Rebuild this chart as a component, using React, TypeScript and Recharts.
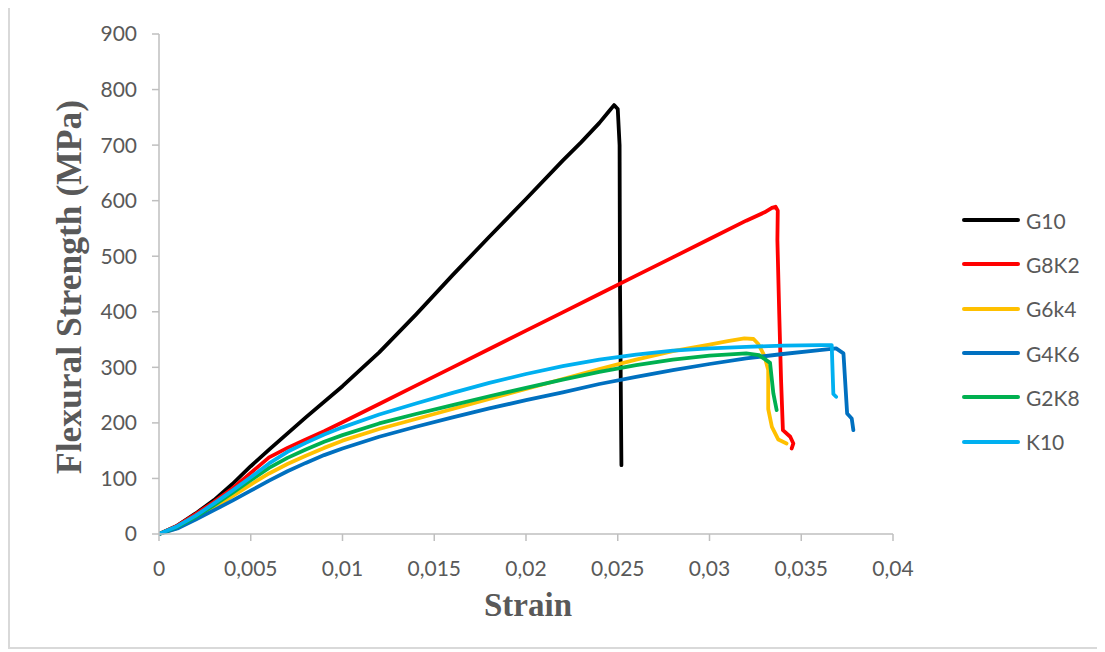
import React from "react";
import { LineChart, Line, XAxis, YAxis } from "recharts";

// ---- data (strain, stress in MPa) ----
const g10Strain = [0, 0.001, 0.002, 0.003, 0.004, 0.005, 0.006, 0.008, 0.01, 0.012, 0.014, 0.016, 0.018, 0.02, 0.022, 0.023, 0.024, 0.0245, 0.0248, 0.025, 0.0251, 0.02512, 0.0252];
const g10Stress = [0, 15, 37, 61, 90, 122, 152, 210, 266, 327, 395, 466, 535, 603, 672, 705, 740, 760, 772, 765, 700, 457, 124];

const g8k2Strain = [0, 0.001, 0.002, 0.003, 0.004, 0.005, 0.006, 0.007, 0.008, 0.009, 0.01, 0.012, 0.014, 0.016, 0.018, 0.02, 0.022, 0.024, 0.026, 0.028, 0.03, 0.032, 0.033, 0.0334, 0.0336, 0.03372, 0.0337, 0.0338, 0.0339, 0.034, 0.0344, 0.03457, 0.03448];
const g8k2Stress = [0, 15, 36, 58, 82, 110, 138, 155, 170, 185, 201, 234, 267, 300, 333, 366, 399, 432, 465, 498, 531, 564, 579, 587, 589, 582, 529, 397, 277, 187, 175, 163, 154];

const g6k4Strain = [0, 0.001, 0.002, 0.003, 0.004, 0.005, 0.006, 0.007, 0.008, 0.009, 0.01, 0.012, 0.014, 0.016, 0.018, 0.02, 0.022, 0.024, 0.026, 0.028, 0.03, 0.031, 0.0319, 0.0324, 0.03266, 0.033, 0.0332, 0.0332, 0.0334, 0.03375, 0.0342];
const g6k4Stress = [0, 11, 28, 47, 68, 89, 109, 126, 141, 155, 168, 189, 207, 225, 243, 261, 279, 297, 314, 329, 341, 347, 352, 351, 342, 320, 295, 225, 193, 170, 163];

const g4k6Strain = [0, 0.001, 0.002, 0.003, 0.004, 0.005, 0.006, 0.007, 0.008, 0.009, 0.01, 0.012, 0.014, 0.016, 0.018, 0.02, 0.022, 0.024, 0.026, 0.028, 0.03, 0.032, 0.034, 0.036, 0.0369, 0.0373, 0.0375, 0.03775, 0.03784];
const g4k6Stress = [0, 10, 26, 43, 60, 78, 96, 113, 128, 142, 154, 175, 193, 210, 226, 241, 255, 270, 283, 295, 306, 316, 324, 331, 334, 325, 217, 208, 187];

const g2k8Strain = [0, 0.001, 0.002, 0.003, 0.004, 0.005, 0.006, 0.007, 0.008, 0.009, 0.01, 0.012, 0.014, 0.016, 0.018, 0.02, 0.022, 0.024, 0.026, 0.028, 0.03, 0.032, 0.0327, 0.0333, 0.03348, 0.03366];
const g2k8Stress = [0, 13, 31, 52, 74, 97, 119, 137, 152, 166, 178, 199, 216, 232, 248, 263, 278, 292, 304, 314, 321, 325, 322, 308, 253, 223];

const k10Strain = [0, 0.001, 0.002, 0.003, 0.004, 0.005, 0.006, 0.007, 0.008, 0.009, 0.01, 0.012, 0.014, 0.016, 0.018, 0.02, 0.022, 0.024, 0.026, 0.028, 0.03, 0.032, 0.034, 0.036, 0.03666, 0.03675, 0.0369];
const k10Stress = [0, 14, 33, 55, 78, 102, 127, 148, 164, 179, 192, 215, 235, 254, 272, 288, 302, 314, 323, 330, 334, 337, 339, 340, 340, 252, 247];

const seriesNames = ["G10", "G8K2", "G6k4", "G4K6", "G2K8", "K10"];
const seriesColors = ["#000000", "#FF0000", "#FFC000", "#0070C0", "#00B050", "#00B0F0"];

const xTicks = [0, 0.005, 0.01, 0.015, 0.02, 0.025, 0.03, 0.035, 0.04];
const xTickLabels = ["0", "0,005", "0,01", "0,015", "0,02", "0,025", "0,03", "0,035", "0,04"];
const yTicks = [0, 100, 200, 300, 400, 500, 600, 700, 800, 900];

const zip = (xs: number[], ys: number[]) => xs.map((x, i) => ({ x, y: ys[i] }));

const seriesData = [
  zip(g10Strain, g10Stress),
  zip(g8k2Strain, g8k2Stress),
  zip(g6k4Strain, g6k4Stress),
  zip(g4k6Strain, g4k6Stress),
  zip(g2k8Strain, g2k8Stress),
  zip(k10Strain, k10Stress),
];

const TEXT = "#595959";
const AXIS = "#bfbfbf";
const TICK_FONT = "Lato, 'Open Sans', sans-serif";
const TITLE_FONT = "'Liberation Serif', 'Times New Roman', serif";

export default function App() {
  return (
    <div
      style={{
        position: "relative",
        width: 1092,
        height: 644,
        marginTop: -3,
        border: "2px solid #d9d9d9",
        boxSizing: "border-box",
        background: "#fff",
      }}
    >
      <div style={{ position: "absolute", left: 0, top: 0 }}>
        <LineChart width={1088} height={640} margin={{ top: 27, right: 205, bottom: 83, left: 89 }}>
          <XAxis
            type="number"
            dataKey="x"
            domain={[0, 0.04]}
            ticks={xTicks}
            tickFormatter={(v: number, i: number) => xTickLabels[i] ?? String(v)}
            axisLine={{ stroke: AXIS, strokeWidth: 1.5 }}
            tickLine={{ stroke: AXIS, strokeWidth: 1.5 }}
            tickSize={7}
            tickMargin={20}
            height={30}
            interval={0}
            tick={{ fill: TEXT, fontSize: 21, fontFamily: TICK_FONT }}
            allowDataOverflow
          />
          <YAxis
            type="number"
            dataKey="y"
            domain={[0, 900]}
            ticks={yTicks}
            axisLine={{ stroke: AXIS, strokeWidth: 1.5 }}
            tickLine={{ stroke: AXIS, strokeWidth: 1.5 }}
            tickSize={7}
            tickMargin={15}
            width={60}
            interval={0}
            tick={{ fill: TEXT, fontSize: 21, fontFamily: TICK_FONT }}
          />
          {seriesData.map((d, i) => (
            <Line
              key={seriesNames[i]}
              data={d}
              dataKey="y"
              name={seriesNames[i]}
              type="linear"
              stroke={seriesColors[i]}
              strokeWidth={3.8}
              strokeLinecap="round"
              strokeLinejoin="round"
              dot={false}
              activeDot={false}
              isAnimationActive={false}
            />
          ))}
          <text
            x={518}
            y={609}
            textAnchor="middle"
            fill={TEXT}
            fontFamily={TITLE_FONT}
            fontWeight="bold"
            fontSize={33}
          >
            Strain
          </text>
          <text
            x={58.5}
            y={280}
            textAnchor="middle"
            dominantBaseline="central"
            transform="rotate(-90 58.5 280)"
            fill={TEXT}
            fontFamily={TITLE_FONT}
            fontWeight="bold"
            fontSize={35.5}
          >
            Flexural Strength (MPa)
          </text>
        </LineChart>
      </div>
      <div style={{ position: "absolute", left: 952, top: 191, display: "flex", flexDirection: "column" }}>
        {seriesNames.map((n, i) => (
          <div key={n} style={{ display: "flex", alignItems: "center", height: 44.3 }}>
            <div style={{ width: 58, height: 4, borderRadius: 2, background: seriesColors[i] }} />
            <span style={{ marginLeft: 6, fontFamily: TICK_FONT, fontSize: 21, color: TEXT }}>{n}</span>
          </div>
        ))}
      </div>
    </div>
  );
}
